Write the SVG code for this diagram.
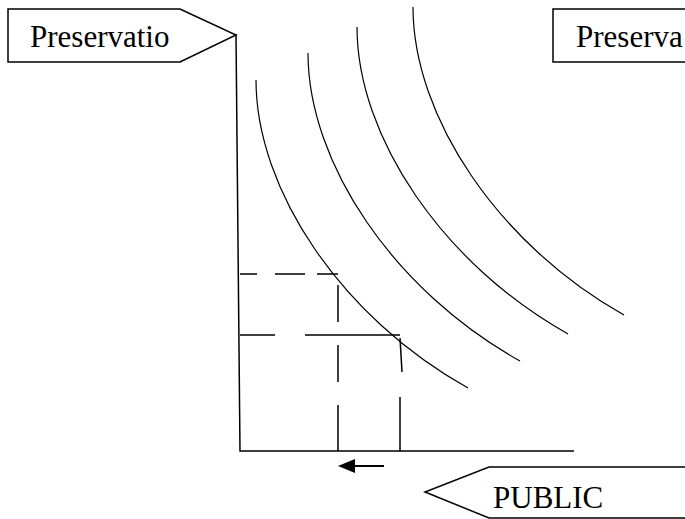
<svg xmlns="http://www.w3.org/2000/svg" width="685" height="519" viewBox="0 0 685 519">
<style>
.s{fill:none;stroke:#000;stroke-width:1.5}
.c{fill:none;stroke:#000;stroke-width:1.2}
.d{fill:none;stroke:#000;stroke-width:1.5}
.box{fill:#fff;stroke:#000;stroke-width:1.5}
text{font-family:'Liberation Serif','Times New Roman','DejaVu Serif',serif;font-size:31px;fill:#000}
</style>
<rect width="685" height="519" fill="#fff"/>
<g id="connectors">
<path class="s" d="M236,34 L240,451 L574,451"/>
<g id="curves">
<path class="c" d="M256,80 C256,190 342,318 468,388"/>
<path class="c" d="M308,53 C308,163 394,291 520,361"/>
<path class="c" d="M357,27 C357,137 443,264 568,334"/>
<path class="c" d="M413,7 C413,117 499,245 624,315"/>
</g>
<g id="dashes">
<path class="d" d="M240,274 H257 M275,274 H305 M317,274 H338"/>
<path class="d" d="M338,285 V322 M338,345 V382 M338,405 V451"/>
<path class="d" d="M240,335 H275 M305,335 H400"/>
<path class="d" d="M400,338 L402,372 M400,397 V451"/>
</g>
<path d="M384,466 H352" fill="none" stroke="#000" stroke-width="2"/>
<path d="M338,466 L355,459 L355,473 Z" fill="#000"/>
</g>
<g id="label-left">
<path class="box" d="M8,9 H180 L236,35 L180,62 H8 Z"/>
<text x="30" y="47">Preservatio</text>
</g>
<g id="label-right">
<rect class="box" x="553" y="9" width="140" height="53"/>
<text x="576" y="47">Preserva</text>
</g>
<g id="label-public">
<path class="box" d="M690,467 H489 L425,492 L489,518 H690"/>
<text x="493" y="508">PUBLIC</text>
</g>
</svg>
